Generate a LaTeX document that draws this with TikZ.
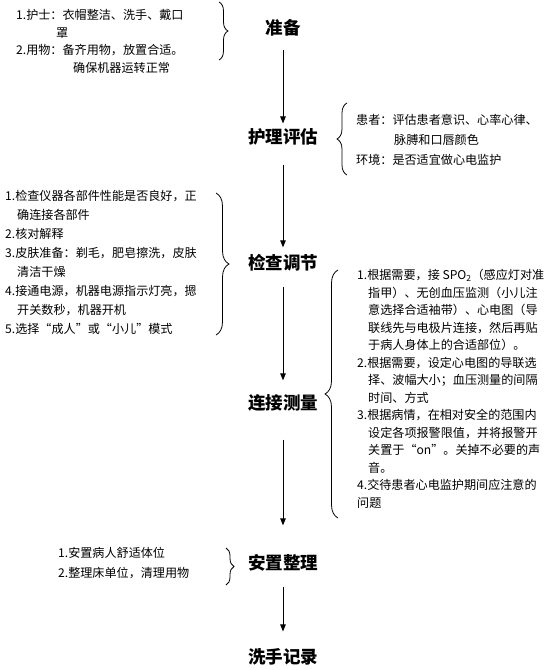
\documentclass[tikz,border=0pt]{standalone}
\usepackage{fontspec}
\setmainfont{Noto Sans CJK SC}
\usetikzlibrary{arrows.meta,decorations.pathreplacing}
\begin{document}
\begin{tikzpicture}[x=1pt,y=-1pt,
    stage/.style={font=\fontsize{17.5}{20}\selectfont\bfseries,inner sep=0pt},
    note/.style={align=left,anchor=north west,inner sep=0pt},
    flow/.style={line width=0.9pt,-{Triangle[length=7pt,width=5.5pt]}},
    curly/.style={decorate,line width=0.8pt,decoration={brace,amplitude=#1}},
    curly/.default=9pt]
  \useasboundingbox (0,0) rectangle (551,670);
  \node[stage] (prep) at (283,28) {准备};
  \node[stage] (assess) at (283,137) {护理评估};
  \node[stage] (check) at (283,263) {检查调节};
  \node[stage] (connect) at (283,403) {连接测量};
  \node[stage] (tidy) at (283,563) {安置整理};
  \node[stage] (record) at (283,657) {洗手记录};
  \draw[flow,shorten <=13pt,shorten >=5pt] (prep) -- (assess);
  \draw[flow,shorten <=19pt,shorten >=7pt] (assess) -- (check);
  \draw[flow,shorten <=15pt,shorten >=14pt] (check) -- (connect);
  \draw[flow,shorten <=28pt,shorten >=29pt] (connect) -- (tidy);
  \draw[flow,shorten <=15pt,shorten >=17pt] (tidy) -- (record);
  \node[note,font=\fontsize{12.1}{17.7}\selectfont] (prepnote) at (16,9)
    {1.护士：衣帽整洁、洗手、戴口\\
     \hspace*{40pt}罩\\
     2.用物：备齐用物，放置合适。\\
     \hspace*{57pt}确保机器运转正常};
  \node[note,font=\fontsize{12.1}{20}\selectfont] (assessnote) at (356,114)
    {患者：评估患者意识、心率心律、\\
     \hspace*{38pt}脉膊和口唇颜色\\
     环境：是否适宜做心电监护};
  \node[note,font=\fontsize{12.1}{19}\selectfont] (checknote) at (5,190)
    {1.检查仪器各部件性能是否良好，正\\
     \hspace*{12pt}确连接各部件\\
     2.核对解释\\
     3.皮肤准备：剃毛，肥皂擦洗，皮肤\\
     \hspace*{12pt}清洁干燥\\
     4.接通电源，机器电源指示灯亮，摁\\
     \hspace*{12pt}开关数秒，机器开机\\
     5.选择“成人”或“小儿”模式};
  \node[note,font=\fontsize{12.1}{17.5}\selectfont] (connectnote) at (357,269)
    {1.根据需要，接 SPO\textsubscript{2}（感应灯对准\\
     \hspace*{11pt}指甲）、无创血压监测（小儿注\\
     \hspace*{11pt}意选择合适袖带）、心电图（导\\
     \hspace*{11pt}联线先与电极片连接，然后再贴\\
     \hspace*{11pt}于病人身体上的合适部位）。\\
     2.根据需要，设定心电图的导联选\\
     \hspace*{11pt}择、波幅大小；血压测量的间隔\\
     \hspace*{11pt}时间、方式\\
     3.根据病情，在相对安全的范围内\\
     \hspace*{11pt}设定各项报警限值，并将报警开\\
     \hspace*{11pt}关置于“on”。关掉不必要的声\\
     \hspace*{11pt}音。\\
     4.交待患者心电监护期间应注意的\\
     问题};
  \node[note,font=\fontsize{12.1}{20}\selectfont] (tidynote) at (58,547)
    {1.安置病人舒适体位\\
     2.整理床单位，清理用物};
  \draw[curly] (219,2) -- (219,60);
  \draw[curly=10pt] (347,175) -- (347,103);
  \draw[curly=13pt] (216,193) -- (216,335);
  \draw[curly=13pt] (338,518) -- (338,270);
  \draw[curly=8pt] (226,548) -- (226,585);
\end{tikzpicture}
\end{document}
